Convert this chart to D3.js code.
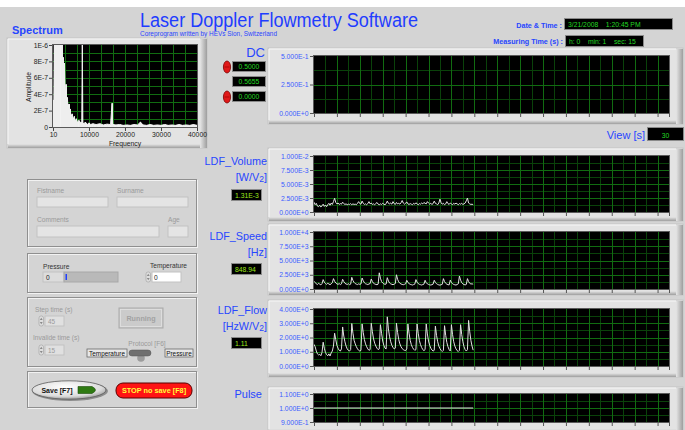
<!DOCTYPE html>
<html>
<head>
<meta charset="utf-8">
<script src="https://cdn.jsdelivr.net/npm/d3@7"></script>
<style>
  body { margin: 0; background: #ffffff; }
  svg { display: block; }
  text { white-space: pre; }
</style>
</head>
<body>
<svg id="panel" width="685" height="430"></svg>
<script>
// ---------- acquisition data ----------
const sampleDt = 0.1;                 // s between chart samples
const chartTimeSpan = [0, 31];        // s shown on every strip chart
const chartTimeTicks = [0, 2, 4, 6, 8, 10, 12, 14, 16, 18, 20, 22, 24, 26, 28, 30, 31];

// LDF_Volume in units of 1E-3 W/V2
const volumeValues = [
  1.75,1.30,1.55,1.05,0.95,1.20,0.90,1.10,1.40,1.00,1.25,0.95,1.30,1.55,1.20,1.60,1.35,1.85,2.45,1.70,
  1.45,1.60,1.35,1.50,1.40,1.75,1.50,1.35,1.45,1.30,1.40,1.35,1.50,1.30,1.45,1.35,1.40,1.30,1.55,1.85,
  1.50,1.40,1.95,1.55,1.35,1.45,1.30,1.50,1.85,1.45,1.60,1.35,1.45,1.30,1.50,1.70,1.40,1.30,1.45,1.35,
  1.55,1.40,1.30,1.50,1.95,1.55,1.45,1.60,1.40,1.85,1.50,1.35,1.70,1.45,1.55,1.40,1.65,2.05,1.60,1.40,
  1.55,1.80,1.45,1.35,1.50,1.40,1.30,1.55,1.40,1.65,1.45,1.30,1.50,1.40,1.60,1.45,1.70,1.55,1.45,1.85,
  1.60,1.40,1.55,1.35,1.50,1.95,1.55,1.45,1.30,1.60,2.30,1.65,1.40,1.55,1.30,1.45,1.85,1.50,1.35,1.60,
  1.45,1.30,1.55,1.40,1.60,1.45,1.30,1.50,1.40,1.55,1.35,1.45,1.60,2.00,2.50,1.60,1.45,1.35,1.40,1.31
];
const volumeUnit = 1e-3;

// LDF_Speed in Hz
const speedValues = [
  1360,1150,900,780,1000,850,720,950,1650,1200,950,820,1000,880,760,900,1100,1820,1350,1050,
  900,820,950,780,900,1700,1300,1000,880,800,920,760,850,2050,1500,1150,950,850,780,900,
  820,880,1930,1450,1100,920,850,780,880,950,1750,1300,1000,880,800,760,850,2840,1900,1300,
  1050,900,820,880,1990,1400,1050,900,820,760,850,950,2500,1700,1250,1000,880,800,750,820,
  900,1530,1150,950,820,760,700,780,850,1650,1200,950,820,760,700,780,850,1530,1100,900,
  800,730,700,760,850,1530,1150,920,800,720,680,750,820,1820,1300,1000,850,760,720,1550,
  1150,920,800,730,700,780,900,2270,1550,1100,900,780,720,800,1820,1300,1000,880,900,848.94
];

// LDF_Flow in HzW/V2
const flowValues = [
  1.52,1.35,1.05,0.85,0.78,0.82,0.72,0.95,1.67,1.25,0.95,0.80,0.72,0.85,0.70,0.92,1.05,1.40,2.30,1.85,
  1.45,1.25,1.10,1.05,1.20,2.74,2.10,1.70,1.40,1.20,1.10,1.05,1.15,2.98,2.30,1.80,1.55,1.35,1.20,1.10,
  1.05,1.10,2.95,2.35,1.85,1.55,1.35,1.20,1.10,1.15,3.00,2.40,1.90,1.60,1.40,1.25,1.15,1.20,2.90,2.30,
  1.75,1.45,1.25,1.20,3.45,2.60,2.05,1.70,1.45,1.30,1.20,1.25,3.00,2.35,1.85,1.55,1.35,1.22,1.15,1.10,
  1.08,1.20,2.95,2.30,1.80,1.50,1.30,1.18,1.10,1.15,2.95,2.30,1.80,1.50,1.30,1.15,1.08,1.15,2.95,2.25,
  1.75,1.45,1.25,1.12,1.05,1.10,2.80,2.15,1.70,1.40,1.22,1.10,1.02,1.10,2.83,2.15,1.65,1.35,1.15,1.05,
  2.90,2.20,1.70,1.40,1.20,1.08,1.02,1.10,2.90,2.20,1.70,1.35,1.15,1.05,1.15,3.20,2.40,1.80,1.40,1.11
];

// Pulse: constant level over the recorded span
const pulseTimes = [0, 13.9];
const pulseValues = [1.0, 1.0];

// DC chart holds no samples yet
const dcValues = [];

// Power spectrum (frequency in Hz, amplitude in units of 1E-7)
const spectrumFreq = [
  10,250,400,600,900,1200,1500,1800,2100,2400,2600,2800,3000,3200,3400,3600,3800,4000,4200,4400,
  4600,4800,5000,5300,5600,5900,6200,6500,6800,7100,7400,7700,8000,8150,8300,8600,9000,9500,10000,10500,
  11000,12000,13000,14000,15000,16000,16400,16600,17500,18500,19500,20500,21500,22500,23500,24300,25000,26000,27000,28000,
  29000,30000,31000,32000,33000,34000,35000,36000,37000,38000,39000,40000
];
const spectrumAmp = [
  3.3,2.6,12,14,12,11,15,13,12,11,6.5,8.5,5.5,7.8,3.5,5.2,2.8,3.6,2.2,2.8,
  1.6,2.2,1.2,1.6,0.9,1.3,0.7,1.0,0.5,0.8,0.4,0.6,0.5,10.0,0.5,0.4,0.6,0.3,0.5,0.3,
  0.4,0.3,0.4,0.25,0.35,0.3,2.9,0.3,0.25,0.3,0.2,0.25,0.2,0.3,0.25,0.6,0.25,0.2,0.3,0.2,
  0.25,0.2,0.3,0.2,0.25,0.2,0.3,0.2,0.25,0.2,0.3,0.2
];
const spectrumUnit = 1e-7;
const spectrumXTicks = [10, 10000, 20000, 30000, 40000];
const spectrumYTicks = [0, 2, 4, 6, 8, 10];
const spectrumYLabels = ['0', '2E-7', '4E-7', '6E-7', '8E-7', '1E-6'];

// Y ticks of each strip chart
const dcTicks = [0, 0.25, 0.5];
const volumeTicks = [0, 0.0025, 0.005, 0.0075, 0.01];
const speedTicks = [0, 2500, 5000, 7500, 10000];
const flowTicks = [0, 1, 2, 3, 4];
const pulseTicks = [0.9, 1.0, 1.1];

// ---------- drawing ----------
const svg = d3.select('#panel');
const SANS = '"Liberation Sans", Arial, sans-serif';
const BLUE = '#2746ff';
const TICKBLUE = '#3b5cff';
const GREEN = '#22d822';
const LIME = '#9ee81a';

svg.append('rect').attr('x', 0).attr('y', 7).attr('width', 685).attr('height', 423).attr('fill', '#d4d4d4');

const defs = svg.append('defs');
const edge = defs.append('linearGradient').attr('id', 'edgeR').attr('x1', 0).attr('x2', 1);
edge.append('stop').attr('offset', 0).attr('stop-color', '#e6e6e6');
edge.append('stop').attr('offset', 1).attr('stop-color', '#9e9e9e');
const edgeB = defs.append('linearGradient').attr('id', 'edgeB').attr('x1', 0).attr('x2', 0).attr('y1', 0).attr('y2', 1);
edgeB.append('stop').attr('offset', 0).attr('stop-color', '#e6e6e6');
edgeB.append('stop').attr('offset', 1).attr('stop-color', '#9e9e9e');
const saveGrad = defs.append('radialGradient').attr('id', 'saveGrad').attr('cx', 0.45).attr('cy', 0.35).attr('r', 0.7);
saveGrad.append('stop').attr('offset', 0).attr('stop-color', '#ffffff');
saveGrad.append('stop').attr('offset', 0.7).attr('stop-color', '#dcdcdc');
saveGrad.append('stop').attr('offset', 1).attr('stop-color', '#8c8c8c');

function text(x, y, str, opts = {}) {
  const t = svg.append('text').attr('x', x).attr('y', y).text(str)
    .attr('font-family', opts.family || SANS)
    .attr('font-size', opts.size || 8)
    .attr('fill', opts.fill || '#000')
    .attr('text-anchor', opts.anchor || 'start');
  if (opts.weight) t.attr('font-weight', opts.weight);
  if (opts.len) t.attr('textLength', opts.len).attr('lengthAdjust', 'spacingAndGlyphs');
  return t;
}

// raised LabVIEW-style frame
function raisedFrame(x, y, w, h) {
  svg.append('rect').attr('x', x).attr('y', y).attr('width', w).attr('height', h)
    .attr('fill', '#e3e3e3').attr('stroke', '#c4c4c4').attr('stroke-width', 1);
  svg.append('rect').attr('x', x + w - 7).attr('y', y + 1).attr('width', 7).attr('height', h - 1).attr('fill', 'url(#edgeR)');
  svg.append('rect').attr('x', x + 1).attr('y', y + h - 4).attr('width', w - 8).attr('height', 4).attr('fill', 'url(#edgeB)');
  svg.append('line').attr('x1', x + 1).attr('x2', x + w - 7).attr('y1', y + 1).attr('y2', y + 1).attr('stroke', '#f8f8f8');
  svg.append('line').attr('x1', x + 1).attr('x2', x + 1).attr('y1', y + 1).attr('y2', y + h - 4).attr('stroke', '#f8f8f8');
}

function grooveBox(x, y, w, h) {
  svg.append('rect').attr('x', x + 0.5).attr('y', y + 0.5).attr('width', w).attr('height', h)
    .attr('fill', 'none').attr('stroke', '#f2f2f2');
  svg.append('rect').attr('x', x - 0.5).attr('y', y - 0.5).attr('width', w).attr('height', h)
    .attr('fill', 'none').attr('stroke', '#8f8f8f');
}

function indicator(x, y, w, h, str, anchor = 'start', color = GREEN) {
  svg.append('rect').attr('x', x - 1).attr('y', y - 1).attr('width', w + 2).attr('height', h + 2).attr('fill', '#8a8a8a');
  svg.append('rect').attr('x', x).attr('y', y).attr('width', w).attr('height', h).attr('fill', '#000');
  const tx = anchor === 'end' ? x + w - 3 : (anchor === 'middle' ? x + w / 2 : x + 3);
  text(tx, y + h - 2.2, str, { size: 6.8, fill: color, anchor });
}

function sci(v) {
  if (v === 0) return '0.000E+0';
  const e = Math.floor(Math.log10(Math.abs(v)) + 1e-9);
  const m = v / Math.pow(10, e);
  return m.toFixed(3) + 'E' + (e >= 0 ? '+' : '-') + Math.abs(e);
}

// strip chart with black plot, green grid, blue scientific tick labels
function stripChart(cfg) {
  const { frame, plot, yDomain, yTicks, times, values, clipId } = cfg;
  raisedFrame(frame.x, frame.y, frame.w, frame.h);
  const x = d3.scaleLinear().domain(chartTimeSpan).range([plot.x0, plot.x1]);
  const y = d3.scaleLinear().domain(yDomain).range([plot.y1, plot.y0]);
  const g = svg.append('g');
  g.append('rect').attr('x', plot.x0 - 1).attr('y', plot.y0 - 1)
    .attr('width', plot.x1 - plot.x0 + 2).attr('height', plot.y1 - plot.y0 + 2).attr('fill', '#5a5a5a');
  g.append('rect').attr('x', plot.x0).attr('y', plot.y0)
    .attr('width', plot.x1 - plot.x0).attr('height', plot.y1 - plot.y0).attr('fill', '#000');

  // minor grid: every second along time, halfway between y ticks
  const minorX = d3.range(chartTimeSpan[0] + 1, chartTimeSpan[1], 2);
  const minorY = yTicks.slice(0, -1).map((v, i) => (v + yTicks[i + 1]) / 2);
  g.selectAll(null).data(minorX).join('line')
    .attr('x1', d => Math.round(x(d)) + 0.5).attr('x2', d => Math.round(x(d)) + 0.5)
    .attr('y1', plot.y0).attr('y2', plot.y1).attr('stroke', '#0a420a').attr('stroke-width', 1);
  g.selectAll(null).data(minorY).join('line')
    .attr('y1', d => Math.round(y(d)) + 0.5).attr('y2', d => Math.round(y(d)) + 0.5)
    .attr('x1', plot.x0).attr('x2', plot.x1).attr('stroke', '#0a420a').attr('stroke-width', 1);
  // major grid
  g.selectAll(null).data(chartTimeTicks.filter(d => d > chartTimeSpan[0] && d < chartTimeSpan[1])).join('line')
    .attr('x1', d => Math.round(x(d)) + 0.5).attr('x2', d => Math.round(x(d)) + 0.5)
    .attr('y1', plot.y0).attr('y2', plot.y1).attr('stroke', '#116c11').attr('stroke-width', 1);
  g.selectAll(null).data(yTicks.slice(1, -1)).join('line')
    .attr('y1', d => Math.round(y(d)) + 0.5).attr('y2', d => Math.round(y(d)) + 0.5)
    .attr('x1', plot.x0).attr('x2', plot.x1).attr('stroke', '#116c11').attr('stroke-width', 1);

  // axes
  const yAxis = d3.axisLeft(y).tickValues(yTicks).tickFormat(sci).tickSize(3).tickPadding(1.5);
  const ya = g.append('g').attr('transform', `translate(${plot.x0 - 1},0)`).call(yAxis);
  ya.select('.domain').remove();
  ya.selectAll('line').attr('stroke', '#555');
  ya.selectAll('text').attr('font-family', SANS).attr('font-size', 6.8).attr('fill', TICKBLUE);
  const xAxis = d3.axisBottom(x).tickValues(chartTimeTicks).tickFormat('').tickSize(3);
  const xa = g.append('g').attr('transform', `translate(0,${plot.y1 + 1})`).call(xAxis);
  xa.select('.domain').remove();
  xa.selectAll('line').attr('stroke', '#555');

  // trace
  if (values.length) {
    svg.append('clipPath').attr('id', clipId).append('rect')
      .attr('x', plot.x0).attr('y', plot.y0).attr('width', plot.x1 - plot.x0).attr('height', plot.y1 - plot.y0);
    const line = d3.line().x((d, i) => x(times(i))).y(d => y(d));
    g.append('path').datum(values).attr('d', line).attr('fill', 'none')
      .attr('stroke', '#e2e2e2').attr('stroke-width', 1).attr('clip-path', `url(#${clipId})`);
  }
}

// ---------- header ----------
text(140, 27, 'Laser Doppler Flowmetry Software', { size: 20, fill: '#1f3dff', len: 278 });
text(140, 36, 'Coreprogram written by HEVs Sion, Switzerland', { size: 6.4, fill: '#2a46ff', len: 137 });

text(562, 28, 'Date & Time :', { size: 7.2, fill: BLUE, anchor: 'end', weight: 'bold' });
indicator(565, 19, 107, 10, '3/21/2008    1:20:45 PM');
text(563, 44, 'Measuring Time (s) :', { size: 7.2, fill: BLUE, anchor: 'end', weight: 'bold' });
indicator(566, 36, 77, 10, 'h: 0    min: 1    sec: 15');

// ---------- spectrum ----------
text(12, 34, 'Spectrum', { size: 11, fill: BLUE, weight: 'bold' });
raisedFrame(7, 38, 200, 110);
{
  const plot = { x0: 53, x1: 197, y0: 45, y1: 127 };
  const x = d3.scaleLinear().domain([10, 40000]).range([plot.x0, plot.x1]);
  const y = d3.scaleLinear().domain([0, 10]).range([plot.y1, plot.y0]);
  const g = svg.append('g');
  g.append('rect').attr('x', plot.x0 - 1).attr('y', plot.y0 - 1).attr('width', plot.x1 - plot.x0 + 2)
    .attr('height', plot.y1 - plot.y0 + 2).attr('fill', '#5a5a5a');
  g.append('rect').attr('x', plot.x0).attr('y', plot.y0).attr('width', plot.x1 - plot.x0)
    .attr('height', plot.y1 - plot.y0).attr('fill', '#000');
  const vGrid = d3.range(10 + 10000 / 3, 40000, 10000 / 3);
  g.selectAll(null).data(vGrid).join('line')
    .attr('x1', d => Math.round(x(d)) + 0.5).attr('x2', d => Math.round(x(d)) + 0.5)
    .attr('y1', plot.y0).attr('y2', plot.y1).attr('stroke', '#116c11');
  g.selectAll(null).data(d3.range(1, 10, 1)).join('line')
    .attr('y1', d => Math.round(y(d)) + 0.5).attr('y2', d => Math.round(y(d)) + 0.5)
    .attr('x1', plot.x0).attr('x2', plot.x1).attr('stroke', '#116c11');
  svg.append('clipPath').attr('id', 'clipSpec').append('rect')
    .attr('x', plot.x0).attr('y', plot.y0).attr('width', plot.x1 - plot.x0).attr('height', plot.y1 - plot.y0);
  const area = d3.area().x((d, i) => x(spectrumFreq[i])).y0(y(0)).y1(d => y(d));
  g.append('path').datum(spectrumAmp).attr('d', area).attr('fill', '#f2f2f2')
    .attr('stroke', '#f2f2f2').attr('stroke-width', 1).attr('stroke-linejoin', 'miter')
    .attr('clip-path', 'url(#clipSpec)');
  // one stem per spectral bin so narrow lines stay visible
  g.append('g').attr('clip-path', 'url(#clipSpec)')
    .selectAll('line').data(spectrumAmp).join('line')
    .attr('x1', (d, i) => Math.round(x(spectrumFreq[i])) + 0.5)
    .attr('x2', (d, i) => Math.round(x(spectrumFreq[i])) + 0.5)
    .attr('y1', y(0)).attr('y2', d => y(d))
    .attr('stroke', '#eeeeee').attr('stroke-width', 1);

  const ya = g.append('g').attr('transform', `translate(${plot.x0 - 1},0)`)
    .call(d3.axisLeft(y).tickValues(spectrumYTicks).tickFormat((d, i) => spectrumYLabels[i]).tickSize(3).tickPadding(1));
  ya.select('.domain').remove();
  ya.selectAll('line').attr('stroke', '#444');
  ya.selectAll('text').attr('font-family', SANS).attr('font-size', 6.8).attr('fill', '#222');
  const xa = g.append('g').attr('transform', `translate(0,${plot.y1 + 1})`)
    .call(d3.axisBottom(x).tickValues(spectrumXTicks).tickFormat(d3.format('d')).tickSize(3).tickPadding(1.5));
  xa.select('.domain').remove();
  xa.selectAll('line').attr('stroke', '#444');
  xa.selectAll('text').attr('font-family', SANS).attr('font-size', 6.8).attr('fill', '#222');
  text(125, 146, 'Frequency', { size: 6.8, fill: '#222', anchor: 'middle' });
  text(0, 0, 'Amplitude', { size: 6.8, fill: '#222', anchor: 'middle' })
    .attr('transform', 'translate(31,87) rotate(-90)');
}

// ---------- DC ----------
text(265, 57, 'DC', { size: 13, fill: BLUE, anchor: 'end' });
function incButton(cx, cy) {
  svg.append('ellipse').attr('cx', cx).attr('cy', cy).attr('rx', 3.6).attr('ry', 6)
    .attr('fill', '#e01818').attr('stroke', '#7a0000').attr('stroke-width', 0.8);
  svg.append('line').attr('x1', cx - 2.5).attr('x2', cx + 2.5).attr('y1', cy).attr('y2', cy).attr('stroke', '#8a0000').attr('stroke-width', 0.6);
}
incButton(227, 67);
indicator(233, 62, 32, 9, '0.5000', 'middle');
indicator(233, 77, 32, 9, '0.5655', 'middle');
incButton(227, 97);
indicator(233, 92, 32, 9, '0.0000', 'middle');

stripChart({
  frame: { x: 268, y: 48, w: 415, h: 76 },
  plot: { x0: 314, x1: 669, y0: 56, y1: 113 },
  yDomain: [0, 0.5], yTicks: dcTicks,
  times: i => i * sampleDt, values: dcValues, clipId: 'clipDC'
});

text(645, 139, 'View [s]', { size: 11, fill: BLUE, anchor: 'end' });
indicator(648, 128, 35, 12, '30', 'middle');

// ---------- LDF channels ----------
function channelLabel(y, name, unitParts) {
  text(267, y, name, { size: 10.8, fill: BLUE, anchor: 'end' });
  const t = text(267, y + 16, '', { size: 10.8, fill: BLUE, anchor: 'end' });
  unitParts.forEach(p => {
    const s = t.append('tspan').text(p.t);
    if (p.sub) s.attr('font-size', 8.5).attr('dy', 1);
    else if (p.after) s.attr('dy', -1);
  });
}

channelLabel(165, 'LDF_Volume', [{ t: '[W/V' }, { t: '2', sub: true }, { t: ']', after: true }]);
indicator(232, 190, 29, 10, '1.31E-3', 'start', LIME);
stripChart({
  frame: { x: 268, y: 148, w: 415, h: 73 },
  plot: { x0: 314, x1: 669, y0: 156, y1: 212 },
  yDomain: [0, 0.01], yTicks: volumeTicks,
  times: i => i * sampleDt, values: volumeValues.map(v => v * volumeUnit), clipId: 'clipVol'
});

channelLabel(240, 'LDF_Speed', [{ t: '[Hz]' }]);
indicator(232, 264, 29, 10, '848.94', 'start', LIME);
stripChart({
  frame: { x: 268, y: 224, w: 415, h: 71 },
  plot: { x0: 314, x1: 669, y0: 232, y1: 289 },
  yDomain: [0, 10000], yTicks: speedTicks,
  times: i => i * sampleDt, values: speedValues, clipId: 'clipSpd'
});

channelLabel(314, 'LDF_Flow', [{ t: '[HzW/V' }, { t: '2', sub: true }, { t: ']', after: true }]);
indicator(232, 338, 29, 10, '1.11', 'start', LIME);
stripChart({
  frame: { x: 268, y: 300, w: 415, h: 77 },
  plot: { x0: 314, x1: 669, y0: 309, y1: 366 },
  yDomain: [0, 4], yTicks: flowTicks,
  times: i => i * sampleDt, values: flowValues, clipId: 'clipFlow'
});

text(262, 398, 'Pulse', { size: 11, fill: BLUE, anchor: 'end' });
stripChart({
  frame: { x: 268, y: 387, w: 415, h: 46 },
  plot: { x0: 314, x1: 669, y0: 394, y1: 422 },
  yDomain: [0.9, 1.1], yTicks: pulseTicks,
  times: i => pulseTimes[i], values: pulseValues, clipId: 'clipPulse'
});

// ---------- patient form ----------
const GREY = '#9a9a9a';
function field(x, y, w, h, fill = '#e4e4e4') {
  svg.append('rect').attr('x', x).attr('y', y).attr('width', w).attr('height', h)
    .attr('fill', fill).attr('stroke', '#c2c2c2');
}
grooveBox(28, 180, 169, 67);
text(37, 193, 'Fistname', { size: 6.6, fill: GREY });
field(37, 197, 71, 10);
text(117, 193, 'Surname', { size: 6.6, fill: GREY });
field(117, 197, 71, 10);
text(37, 222, 'Comments', { size: 6.6, fill: GREY });
field(37, 226, 122, 11);
text(168, 222, 'Age', { size: 6.6, fill: GREY });
field(168, 226, 20, 11);

// pressure / temperature
grooveBox(28, 254, 169, 39);
text(43, 269, 'Pressure', { size: 6.6, fill: '#333' });
field(43, 272, 21, 10, '#dcdcdc');
text(46, 280, '0', { size: 6.6, fill: '#222' });
svg.append('rect').attr('x', 64).attr('y', 272).attr('width', 54).attr('height', 10)
  .attr('fill', '#b9b9b9').attr('stroke', '#a8a8a8');
svg.append('rect').attr('x', 65.5).attr('y', 274).attr('width', 1.5).attr('height', 6).attr('fill', '#2040ff');
text(150, 268, 'Temperature', { size: 6.6, fill: '#333' });
function spinner(x, y, h) {
  svg.append('rect').attr('x', x).attr('y', y).attr('width', 4.5).attr('height', h)
    .attr('fill', '#dedede').attr('stroke', '#a0a0a0').attr('stroke-width', 0.6).attr('rx', 2);
  svg.append('path').attr('d', `M${x + 0.8},${y + h / 2 - 1} l1.45,-2.2 l1.45,2.2 Z M${x + 0.8},${y + h / 2 + 1} l1.45,2.2 l1.45,-2.2 Z`)
    .attr('fill', '#8a8a8a');
}
spinner(146, 272, 10);
field(152, 272, 29, 10, '#ffffff');
text(154, 280, '0', { size: 6.6, fill: '#222' });

// protocol settings
grooveBox(28, 298, 169, 69);
text(35, 312, 'Step time (s)', { size: 6.6, fill: GREY });
spinner(39, 316, 10);
field(45, 316, 19, 10, '#e0e0e0');
text(48, 324, '45', { size: 6.4, fill: GREY });
text(33, 340, 'Invalide time (s)', { size: 6.6, fill: GREY });
spinner(39, 345, 10);
field(45, 345, 19, 10, '#e0e0e0');
text(48, 353, '15', { size: 6.4, fill: GREY });

svg.append('rect').attr('x', 119).attr('y', 308).attr('width', 44).attr('height', 20)
  .attr('fill', '#cbcbcb').attr('stroke', '#a9a9a9');
svg.append('rect').attr('x', 120.5).attr('y', 309.5).attr('width', 41).attr('height', 17)
  .attr('fill', 'none').attr('stroke', '#e2e2e2').attr('stroke-width', 0.8);
text(141, 321, 'Running', { size: 7.2, fill: '#a2a2a2', anchor: 'middle', weight: 'bold' });

text(147, 346, 'Protocol [F6]', { size: 6.6, fill: GREY, anchor: 'middle' });
svg.append('rect').attr('x', 87).attr('y', 349).attr('width', 40).attr('height', 8)
  .attr('fill', '#e8e8e8').attr('stroke', '#6a6a6a').attr('stroke-width', 0.8);
text(107, 355.6, 'Temperature', { size: 6.4, fill: '#111', anchor: 'middle' });
svg.append('rect').attr('x', 165).attr('y', 349).attr('width', 28).attr('height', 8)
  .attr('fill', '#e8e8e8').attr('stroke', '#6a6a6a').attr('stroke-width', 0.8);
text(179, 355.6, 'Pressure', { size: 6.4, fill: '#111', anchor: 'middle' });
svg.append('circle').attr('cx', 141).attr('cy', 358).attr('r', 3.8).attr('fill', '#9c9c9c');
svg.append('rect').attr('x', 129).attr('y', 350).attr('width', 22).attr('height', 6).attr('rx', 3)
  .attr('fill', '#6f6f6f').attr('stroke', '#555').attr('stroke-width', 0.5);

// save / stop buttons
grooveBox(28, 372, 169, 36);
svg.append('ellipse').attr('cx', 70).attr('cy', 391).attr('rx', 38).attr('ry', 10)
  .attr('fill', '#8c8c8c');
svg.append('ellipse').attr('cx', 69).attr('cy', 390).attr('rx', 37).attr('ry', 9.2)
  .attr('fill', 'url(#saveGrad)').attr('stroke', '#5a5a5a').attr('stroke-width', 0.8);
text(57, 393, 'Save [F7]', { size: 7, fill: '#111', anchor: 'middle', weight: 'bold' });
svg.append('path').attr('d', 'M78,386.5 L92,386.5 Q99,390 92,393.5 L78,393.5 Z')
  .attr('fill', '#2e7a12').attr('stroke', '#1b4d0a').attr('stroke-width', 0.6);

svg.append('rect').attr('x', 116).attr('y', 383).attr('width', 76).attr('height', 15).attr('rx', 7)
  .attr('fill', '#ff1414').attr('stroke', '#5a0000').attr('stroke-width', 1);
text(154, 393.4, 'STOP no save [F8]', { size: 7.3, fill: '#ffff3a', anchor: 'middle', weight: 'bold' });
</script>
</body>
</html>
